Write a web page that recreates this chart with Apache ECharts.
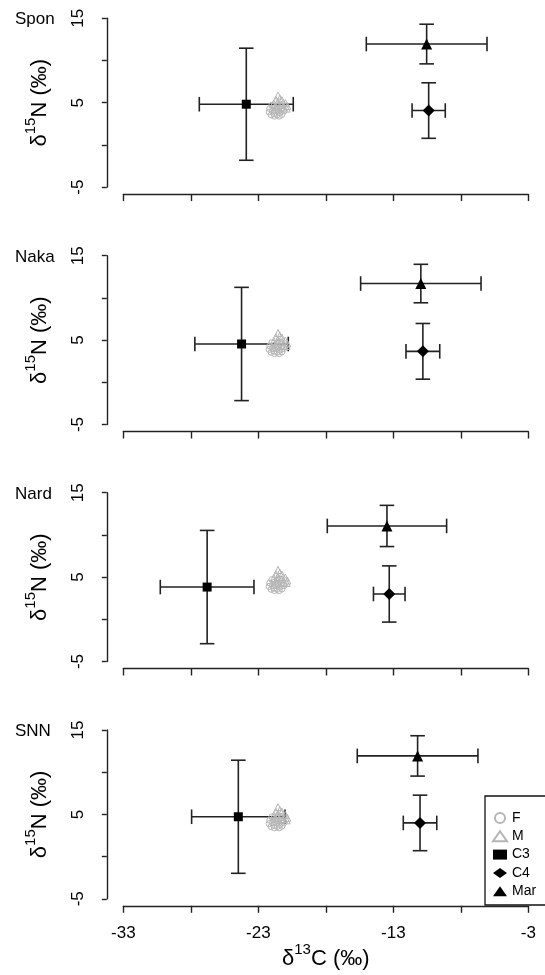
<!DOCTYPE html>
<html><head><meta charset="utf-8">
<script src="https://cdn.jsdelivr.net/npm/echarts@6/dist/echarts.min.js"></script>
<style>html,body{margin:0;padding:0;background:#fff}#c{width:545px;height:975px}</style>
</head><body><div id="c"></div>
<script>
// ---------------- data ----------------
const panels = ['Spon', 'Naka', 'Nard', 'SNN'];
const sources = ['C3', 'C4', 'Mar'];

// source means and SDs (order: C3, C4, Mar)
const sponMeanC = [-23.89, -10.38, -10.53];
const sponSdC   = [3.48, 1.23, 4.47];
const sponMeanN = [4.82, 4.07, 11.95];
const sponSdN   = [6.64, 3.29, 2.35];

const nakaMeanC = [-24.24, -10.81, -10.96];
const nakaSdC   = [3.46, 1.25, 4.46];
const nakaMeanN = [4.54, 3.67, 11.70];
const nakaSdN   = [6.71, 3.30, 2.28];

const nardMeanC = [-26.79, -13.30, -13.47];
const nardSdC   = [3.47, 1.17, 4.42];
const nardMeanN = [3.82, 3.00, 11.06];
const nardSdN   = [6.71, 3.33, 2.44];

const snnMeanC = [-24.48, -11.02, -11.20];
const snnSdC   = [3.46, 1.24, 4.47];
const snnMeanN = [4.72, 3.99, 11.93];
const snnSdN   = [6.70, 3.29, 2.39];

// consumers (same in every panel)
const femaleC = [-22.00, -21.80, -22.15, -21.50, -21.30, -21.95, -21.65, -22.20, -21.10, -21.40, -21.85, -22.05, -21.60, -21.25, -21.80, -21.45];
const femaleN = [4.70, 4.40, 4.30, 4.30, 4.20, 4.00, 4.00, 3.90, 4.00, 3.80, 3.70, 3.55, 3.55, 3.60, 3.40, 3.40];
const maleC = [-21.54, -21.40, -21.70, -21.25, -21.55, -21.00, -21.85, -21.30, -20.85, -21.60, -21.10, -20.90];
const maleN = [5.85, 5.50, 5.35, 5.30, 5.05, 4.95, 4.90, 4.75, 4.60, 4.60, 4.45, 4.30];

const xTickLabels = [-33, -23, -13, -3];
const yTickLabels = [-5, 5, 15];

const meanC = [sponMeanC, nakaMeanC, nardMeanC, snnMeanC];
const sdC = [sponSdC, nakaSdC, nardSdC, snnSdC];
const meanN = [sponMeanN, nakaMeanN, nardMeanN, snnMeanN];
const sdN = [sponSdN, nakaSdN, nardSdN, snnSdN];

// ---------------- layout ----------------
const gridTops = [18.3, 255.7, 492.7, 730];
const gridH = 168.8;
const FONT = 'Liberation Sans, Arial, sans-serif';
const AX = '#222';
const GREY = '#b5b5b5';
const srcSymbols = { C3: ['rect', 9], C4: ['diamond', 12], Mar: ['triangle', 11] };

const grids = [], xAxes = [], yAxes = [], series = [], graphics = [];

function renderErr(params, api) {
  const x = api.value(0), y = api.value(1), sx = api.value(2), sy = api.value(3);
  const l = api.coord([x - sx, y]), r = api.coord([x + sx, y]);
  const t = api.coord([x, y + sy]), b = api.coord([x, y - sy]);
  const cap = 7.3;
  const st = { stroke: '#222', lineWidth: 1.6 };
  const L = (x1, y1, x2, y2) => ({ type: 'line', shape: { x1, y1, x2, y2 }, style: st });
  return {
    type: 'group', children: [
      L(l[0], l[1], r[0], r[1]),
      L(l[0], l[1] - cap, l[0], l[1] + cap),
      L(r[0], r[1] - cap, r[0], r[1] + cap),
      L(t[0], t[1], b[0], b[1]),
      L(t[0] - cap, t[1], t[0] + cap, t[1]),
      L(b[0] - cap, b[1], b[0] + cap, b[1])
    ]
  };
}

const nameRich = {
  d: { fontSize: 22, fontFamily: FONT, color: '#000', padding: [5, 0, 0, 0] },
  s: { fontSize: 15, fontFamily: FONT, color: '#000', verticalAlign: 'top' }
};

panels.forEach((p, i) => {
  grids.push({ left: 123.3, right: 16.7, top: gridTops[i], height: gridH });
  const last = i === panels.length - 1;
  xAxes.push({
    gridIndex: i, type: 'value', min: -33, max: -3, interval: 5, offset: 7,
    axisLine: { show: true, onZero: false, lineStyle: { color: AX, width: 1.4 } },
    axisTick: { show: true, length: 7, lineStyle: { color: AX, width: 1.4 } },
    axisLabel: {
      show: last, margin: 19, fontSize: 17, fontFamily: FONT, color: '#000',
      formatter: v => xTickLabels.includes(Math.round(v)) ? String(Math.round(v)) : ''
    },
    splitLine: { show: false },
    name: last ? '{d|δ}{s|13}{d|C (‰)}' : '',
    nameLocation: 'middle', nameGap: 35,
    nameTextStyle: { color: '#000', fontFamily: FONT, rich: nameRich }
  });
  yAxes.push({
    gridIndex: i, type: 'value', min: -5, max: 15, interval: 5, offset: 16.5,
    axisLine: { show: true, onZero: false, lineStyle: { color: AX, width: 1.4 } },
    axisTick: { show: true, length: 5, lineStyle: { color: AX, width: 1.4 } },
    axisLabel: {
      rotate: 90, margin: 20, fontSize: 17, fontFamily: FONT, color: '#000',
      formatter: v => yTickLabels.includes(Math.round(v)) ? String(Math.round(v)) : ''
    },
    splitLine: { show: false },
    name: '{d|δ}{s|15}{d|N (‰)}',
    nameLocation: 'middle', nameGap: 56,
    nameTextStyle: { color: '#000', fontFamily: FONT, rich: nameRich }
  });

  // error bars
  series.push({
    type: 'custom', name: 'err' + i, xAxisIndex: i, yAxisIndex: i, z: 2,
    renderItem: renderErr, encode: { x: 0, y: 1 },
    data: sources.map((s, k) => [meanC[i][k], meanN[i][k], sdC[i][k], sdN[i][k]])
  });
  // source means
  sources.forEach((s, k) => {
    series.push({
      type: 'scatter', name: s, xAxisIndex: i, yAxisIndex: i, z: 3,
      symbol: srcSymbols[s][0], symbolSize: srcSymbols[s][1],
      itemStyle: { color: '#000', opacity: 1 },
      data: [[meanC[i][k], meanN[i][k]]]
    });
  });
  // consumers
  series.push({
    type: 'scatter', name: 'F', xAxisIndex: i, yAxisIndex: i, z: 4,
    symbol: 'circle', symbolSize: 6,
    itemStyle: { color: 'rgba(0,0,0,0)', borderColor: GREY, borderWidth: 1, opacity: 1 },
    data: femaleC.map((c, k) => [c, femaleN[k]])
  });
  series.push({
    type: 'scatter', name: 'M', xAxisIndex: i, yAxisIndex: i, z: 4,
    symbol: 'triangle', symbolSize: 7,
    itemStyle: { color: 'rgba(0,0,0,0)', borderColor: GREY, borderWidth: 1, opacity: 1 },
    data: maleC.map((c, k) => [c, maleN[k]])
  });

  graphics.push({
    type: 'text', left: 15, top: gridTops[i] - 7, z: 10,
    style: { text: p, fontSize: 17, fontFamily: FONT, fill: '#000' }
  });
});

// legend box
graphics.push({
  type: 'rect', z: 5,
  shape: { x: 485, y: 796, width: 80, height: 109 },
  style: { fill: '#fff', stroke: '#111', lineWidth: 1.3 }
});

const chart = echarts.init(document.getElementById('c'), null, { renderer: 'canvas' });
chart.setOption({
  animation: false,
  backgroundColor: '#fff',
  grid: grids,
  xAxis: xAxes,
  yAxis: yAxes,
  series: series,
  graphic: graphics,
  legend: {
    orient: 'vertical', left: 487, top: 806, z: 20,
    itemWidth: 14, itemHeight: 10, itemGap: 4.3,
    selectedMode: false,
    textStyle: { fontSize: 14, fontFamily: FONT, color: '#000', lineHeight: 14 },
    data: ['F', 'M', 'C3', 'C4', 'Mar']
  }
});
</script></body></html>
